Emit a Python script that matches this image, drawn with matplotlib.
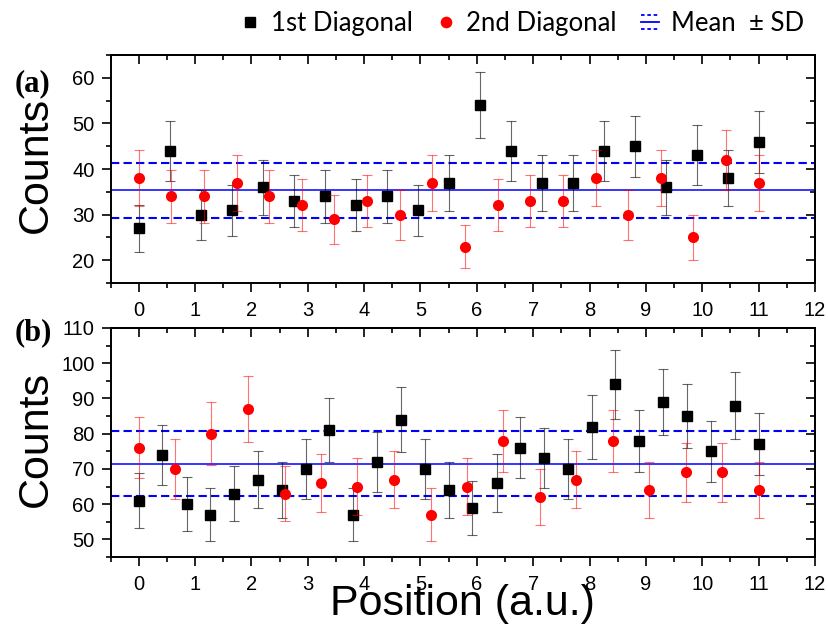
import matplotlib
matplotlib.use('Agg')
import matplotlib.pyplot as plt
from matplotlib.lines import Line2D
from matplotlib.legend_handler import HandlerBase
from matplotlib.ticker import MultipleLocator

plt.rcParams['font.family'] = ['Liberation Sans', 'DejaVu Sans']

# (a) posições e contagens
xa_1 = [0, 0.55, 1.1, 1.65, 2.2, 2.75, 3.3, 3.85, 4.4, 4.95, 5.5, 6.05, 6.6, 7.15, 7.7,
        8.25, 8.8, 9.35, 9.9, 10.45, 11.0]
ya_1 = [27, 44, 30, 31, 36, 33, 34, 32, 34, 31, 37, 54, 44, 37, 37, 44, 45, 36, 43, 38, 46]
ea_1 = [5.2, 6.6, 5.5, 5.6, 6.0, 5.7, 5.8, 5.7, 5.8, 5.6, 6.1, 7.3, 6.6, 6.1, 6.1, 6.6, 6.7,
        6.0, 6.6, 6.2, 6.8]

xa_2 = [0, 0.58, 1.16, 1.74, 2.32, 2.89, 3.47, 4.05, 4.63, 5.21, 5.79, 6.37, 6.95, 7.53,
        8.11, 8.68, 9.26, 9.84, 10.42, 11.0]
ya_2 = [38, 34, 34, 37, 34, 32, 29, 33, 30, 37, 23, 32, 33, 33, 38, 30, 38, 25, 42, 37]
ea_2 = [6.2, 5.8, 5.8, 6.1, 5.8, 5.7, 5.4, 5.7, 5.5, 6.1, 4.8, 5.7, 5.7, 5.7, 6.2, 5.5, 6.2,
        5.0, 6.5, 6.1]

media_a, dp_a = 35.3, 6.0

# (b) posições e contagens
xb_1 = [0, 0.42, 0.85, 1.27, 1.69, 2.12, 2.54, 2.96, 3.38, 3.81, 4.23, 4.65, 5.08, 5.5,
        5.92, 6.35, 6.77, 7.19, 7.62, 8.04, 8.46, 8.88, 9.31, 9.73, 10.15, 10.58, 11.0]
yb_1 = [61, 74, 60, 57, 63, 67, 64, 70, 81, 57, 72, 84, 70, 64, 59, 66, 76, 73, 70, 82, 94,
        78, 89, 85, 75, 88, 77]
eb_1 = [7.8, 8.6, 7.7, 7.5, 7.9, 8.2, 8.0, 8.4, 9.0, 7.5, 8.5, 9.2, 8.4, 8.0, 7.7, 8.1, 8.7,
        8.5, 8.4, 9.1, 9.7, 8.8, 9.4, 9.2, 8.7, 9.4, 8.8]

xb_2 = [0, 0.65, 1.29, 1.94, 2.59, 3.24, 3.88, 4.53, 5.18, 5.82, 6.47, 7.12, 7.76, 8.41,
        9.06, 9.71, 10.35, 11.0]
yb_2 = [76, 70, 80, 87, 63, 66, 65, 67, 57, 65, 78, 62, 67, 78, 64, 69, 69, 64]
eb_2 = [8.7, 8.4, 8.9, 9.3, 7.9, 8.1, 8.1, 8.2, 7.5, 8.1, 8.8, 7.9, 8.2, 8.8, 8.0, 8.3, 8.3,
        8.0]

media_b, dp_b = 71.5, 9.2


class MediaDPHandler(HandlerBase):
    # três linhas: tracejada, contínua, tracejada
    def create_artists(self, legend, orig_handle, xdescent, ydescent, width, height,
                       fontsize, trans):
        x0 = -xdescent + 0.15 * width
        x1 = -xdescent + 0.85 * width
        yc = -ydescent + height / 2
        d = 0.28 * fontsize
        linhas = []
        for dy, ls in ((d, (0, (2, 1.5))), (0, '-'), (-d, (0, (2, 1.5)))):
            l = Line2D([x0, x1], [yc + dy, yc + dy], color='blue', lw=1.3, linestyle=ls,
                       transform=trans)
            linhas.append(l)
        return linhas


def painel(ax, x1, y1, e1, x2, y2, e2, media, dp, ylim, ymaj):
    ax.axhline(media, color='blue', lw=1.1, zorder=1)
    for v in (media - dp, media + dp):
        ax.axhline(v, color='blue', lw=1.5, ls=(0, (4, 2)), zorder=1)
    ax.errorbar(x1, y1, yerr=e1, fmt='none', ecolor='black', alpha=0.6, elinewidth=0.8,
                capsize=3.6, capthick=0.8, zorder=2)
    ax.plot(x1, y1, 's', color='black', ms=6.5, zorder=3)
    ax.errorbar(x2, y2, yerr=e2, fmt='none', ecolor='red', alpha=0.55, elinewidth=0.8,
                capsize=3.6, capthick=0.8, zorder=4)
    ax.plot(x2, y2, 'o', color='red', ms=8, mec='none', zorder=5)

    ax.set_xlim(-0.5, 12)
    ax.set_ylim(*ylim)
    ax.xaxis.set_major_locator(MultipleLocator(1))
    ax.xaxis.set_minor_locator(MultipleLocator(0.5))
    ax.yaxis.set_major_locator(MultipleLocator(ymaj))
    ax.yaxis.set_minor_locator(MultipleLocator(ymaj / 2))
    ax.tick_params(which='both', direction='out', labelsize=14.5, width=1.2,
                   top=False, right=False)
    ax.tick_params(which='major', length=6.5)
    ax.tick_params(which='minor', length=3.3)
    ax.tick_params(axis='x', pad=6.5)
    ax.tick_params(axis='y', pad=5)
    for s in ax.spines.values():
        s.set_linewidth(1.4)

    # ticks internos no topo e à direita (estilo Origin)
    sx = ax.secondary_xaxis('top')
    sx.xaxis.set_major_locator(MultipleLocator(1))
    sx.xaxis.set_minor_locator(MultipleLocator(0.5))
    sx.tick_params(which='both', direction='in', labeltop=False, width=1.2)
    sx.tick_params(which='major', length=6.5)
    sx.tick_params(which='minor', length=3.3)
    sx.spines['top'].set_linewidth(1.4)

    sy = ax.secondary_yaxis('right')
    sy.yaxis.set_major_locator(MultipleLocator(ymaj))
    sy.yaxis.set_minor_locator(MultipleLocator(ymaj / 2))
    sy.tick_params(which='both', direction='in', labelright=False, width=1.2)
    sy.tick_params(which='major', length=6.5)
    sy.tick_params(which='minor', length=3.3)
    sy.spines['right'].set_linewidth(1.4)

    ax.set_ylabel('Counts', fontsize=31, va='center')


fig = plt.figure(figsize=(8.29, 6.27), dpi=100)
ax1 = fig.add_axes([0.1333, 0.5486, 0.8498, 0.3637])
ax2 = fig.add_axes([0.1333, 0.1116, 0.8498, 0.3653])

painel(ax1, xa_1, ya_1, ea_1, xa_2, ya_2, ea_2, media_a, dp_a, (15, 65), 10)
painel(ax2, xb_1, yb_1, eb_1, xb_2, yb_2, eb_2, media_b, dp_b, (45, 110), 10)

ax1.yaxis.set_label_coords(-0.1066, 0.518)
ax2.yaxis.set_label_coords(-0.1066, 0.515)

ax2.set_xlabel('Position (a.u.)', fontsize=31, va='baseline')
ax2.xaxis.set_label_coords(0.5, -0.253)

fig.text(33 / 829, 1 - 84 / 627, '(a)', ha='center', va='center',
         family='Liberation Serif', weight='bold', fontsize=22)
fig.text(33 / 829, 1 - 333 / 627, '(b)', ha='center', va='center',
         family='Liberation Serif', weight='bold', fontsize=22)

# Legenda
h1 = Line2D([], [], marker='s', color='black', ls='none', ms=6.7)
h2 = Line2D([], [], marker='o', color='red', mec='none', ls='none', ms=8.4)
h3 = Line2D([], [], color='blue')
fig.legend([h1, h2, h3], ['1st Diagonal', '2nd Diagonal', 'Mean  ± SD'],
           loc='center', bbox_to_anchor=(0.628, 0.963), ncol=3, frameon=False,
           prop={'family': 'Lato', 'size': 18.5}, handlelength=1.0, handletextpad=0.3,
           columnspacing=0.8, borderpad=0, handler_map={h3: MediaDPHandler()})

fig.savefig('out.png', dpi=100)
